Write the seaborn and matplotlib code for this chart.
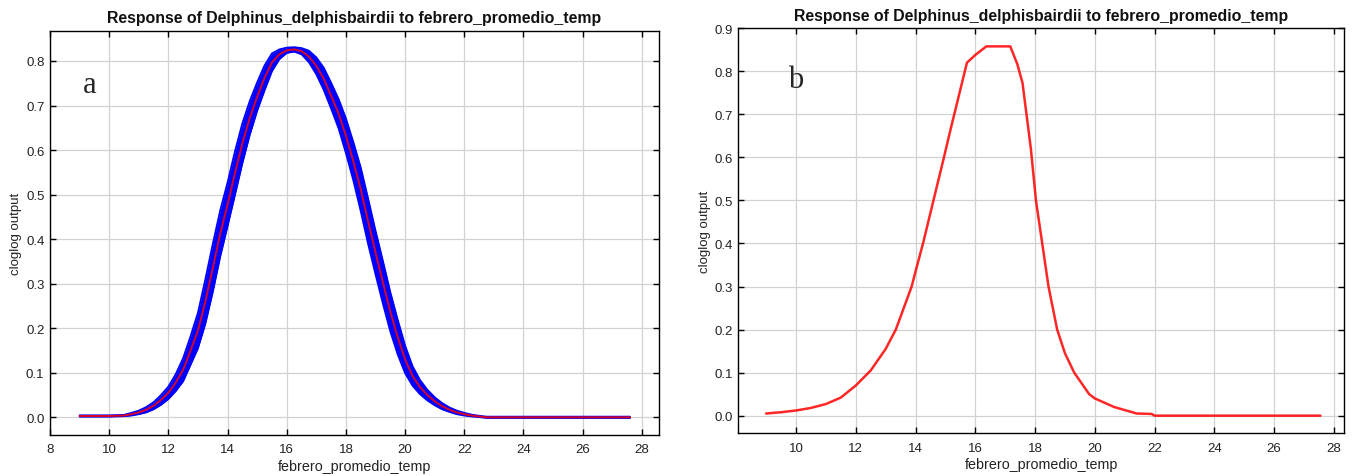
import matplotlib
matplotlib.use("Agg")
import matplotlib.pyplot as plt
import seaborn as sns
import numpy as np
import pandas as pd

# ---------------- data ----------------
title_text = "Response of Delphinus_delphisbairdii to febrero_promedio_temp"
x_label = "febrero_promedio_temp"
y_label = "cloglog output"

# panel a: mean response (red) and band half-width (blue)
a_temp = [9.0, 9.5, 10.0, 10.5, 10.75, 11.0, 11.25, 11.5, 11.75, 12.0, 12.25, 12.5,
          12.75, 13.0, 13.25, 13.5, 13.75, 14.0, 14.25, 14.5, 14.75, 15.0, 15.25,
          15.5, 15.75, 16.0, 16.25, 16.5, 16.75, 17.0, 17.25, 17.5, 17.75, 18.0,
          18.25, 18.5, 18.75, 19.0, 19.25, 19.5, 19.75, 20.0, 20.25, 20.5, 20.75,
          21.0, 21.25, 21.5, 21.75, 22.0, 22.25, 22.5, 22.75, 23.5, 25.0, 26.5, 27.6]
a_mean = [0.003, 0.003, 0.003, 0.004, 0.007, 0.011, 0.017, 0.026, 0.039, 0.055, 0.078,
          0.107, 0.150, 0.195, 0.260, 0.335, 0.412, 0.478, 0.548, 0.615, 0.672, 0.720,
          0.762, 0.797, 0.815, 0.824, 0.826, 0.822, 0.810, 0.789, 0.760, 0.722, 0.682,
          0.632, 0.575, 0.512, 0.440, 0.370, 0.303, 0.237, 0.180, 0.130, 0.093, 0.068,
          0.050, 0.036, 0.025, 0.017, 0.011, 0.007, 0.004, 0.002, 0.0, 0.0, 0.0, 0.0, 0.0]
a_halfwidth = [0.0015, 0.0015, 0.0015, 0.0015, 0.003, 0.004, 0.006, 0.008, 0.011, 0.014,
               0.019, 0.026, 0.032, 0.040, 0.050, 0.054, 0.052, 0.049, 0.049, 0.045,
               0.038, 0.032, 0.028, 0.020, 0.011, 0.006, 0.005, 0.007, 0.013, 0.019,
               0.025, 0.029, 0.033, 0.039, 0.043, 0.049, 0.051, 0.049, 0.048, 0.044,
               0.039, 0.031, 0.022, 0.016, 0.012, 0.009, 0.007, 0.005, 0.004, 0.003,
               0.002, 0.0015, 0.0015, 0.0015, 0.0015, 0.0015, 0.0015]

# panel b: single response curve
b_temp = [9.0, 9.5, 10.0, 10.5, 11.0, 11.5, 12.0, 12.5, 13.0, 13.34, 13.87, 14.0,
          14.25, 14.6, 14.95, 15.19, 15.72, 16.0, 16.37, 17.17, 17.41, 17.58, 17.86,
          18.03, 18.24, 18.45, 18.74, 19.0, 19.31, 19.81, 20.0, 20.65, 21.15, 21.4,
          21.9, 22.0, 24.0, 26.0, 27.55]
b_resp = [0.005, 0.008, 0.012, 0.018, 0.027, 0.042, 0.070, 0.105, 0.155, 0.200, 0.300,
          0.335, 0.400, 0.500, 0.600, 0.670, 0.820, 0.838, 0.858, 0.858, 0.816, 0.773,
          0.620, 0.500, 0.400, 0.300, 0.200, 0.145, 0.100, 0.050, 0.040, 0.020, 0.010,
          0.005, 0.004, 0.0, 0.0, 0.0, 0.0]

a_yticks = [0.0, 0.1, 0.2, 0.3, 0.4, 0.5, 0.6, 0.7, 0.8]
b_yticks = [0.0, 0.1, 0.2, 0.3, 0.4, 0.5, 0.6, 0.7, 0.8, 0.9]
a_xticks = [8, 10, 12, 14, 16, 18, 20, 22, 24, 26, 28]
b_xticks = [10, 12, 14, 16, 18, 20, 22, 24, 26, 28]
panel_letters = ["a", "b"]

# ---------------- style ----------------
sns.set_theme(style="ticks")
plt.rcParams["font.family"] = ["Liberation Sans", "DejaVu Sans"]

df_a = pd.DataFrame({"temp": a_temp, "mean": a_mean, "hw": a_halfwidth})
df_a["lower"] = df_a["mean"] - df_a["hw"]
df_a["upper"] = df_a["mean"] + df_a["hw"]
df_b = pd.DataFrame({"temp": b_temp, "resp": b_resp})

fig = plt.figure(figsize=(13.53, 4.77), dpi=100)
ax_a = fig.add_axes([0.03696, 0.08595, 0.4499, 0.8476])
ax_b = fig.add_axes([0.5457, 0.0895, 0.4479, 0.8491])

# panel a
ax_a.fill_between(df_a["temp"], df_a["lower"], df_a["upper"], color="#0000ff", lw=0, zorder=2)
sns.lineplot(data=df_a, x="temp", y="upper", ax=ax_a, color="#0000ff", lw=1.3, zorder=2)
sns.lineplot(data=df_a, x="temp", y="lower", ax=ax_a, color="#0000ff", lw=1.3, zorder=2)
sns.lineplot(data=df_a, x="temp", y="mean", ax=ax_a, color="#ff0000", lw=1.4, alpha=0.85, zorder=3)

# panel b
sns.lineplot(data=df_b, x="temp", y="resp", ax=ax_b, color="#ff0000", lw=1.8, alpha=0.85, zorder=3)

def style_axes(ax, xlim, ylim, xticks, yticks):
    ax.set_xlim(*xlim)
    ax.set_ylim(*ylim)
    ax.set_xticks(xticks)
    ax.set_yticks(yticks)
    ax.set_yticklabels([f"{v:.1f}" for v in yticks])
    ax.set_xticklabels([str(v) for v in xticks])
    ax.grid(True, color="#d2d2d2", lw=0.9, zorder=0)
    ax.set_axisbelow(True)
    for s in ax.spines.values():
        s.set_color("black")
        s.set_linewidth(1.0)
        s.set_visible(True)
    ax.tick_params(direction="in", top=True, right=True, length=4, width=1.0,
                   color="black", labelsize=9.5, labelcolor="#222222")
    ax.tick_params(axis="x", pad=6)
    ax.tick_params(axis="y", pad=4)
    ax.set_title(title_text, fontsize=11.4, fontweight="bold", pad=6, color="#111111")
    ax.set_xlabel(x_label, fontsize=10.3, labelpad=2.5, color="#222222")
    ax.set_ylabel(y_label, fontsize=9.5, labelpad=2.5, color="#222222")

style_axes(ax_a, (8, 28.57), (-0.0397, 0.868), a_xticks, a_yticks)
style_axes(ax_b, (8.07, 28.35), (-0.041, 0.9), b_xticks, b_yticks)

ax_a.text(9.33, 0.748, panel_letters[0], fontsize=22, family=["Liberation Serif"],
          ha="center", va="center")
ax_b.text(10.0, 0.78, panel_letters[1], fontsize=22, family=["Liberation Serif"],
          ha="center", va="center")

fig.savefig("out.png", dpi=100, facecolor="white")
